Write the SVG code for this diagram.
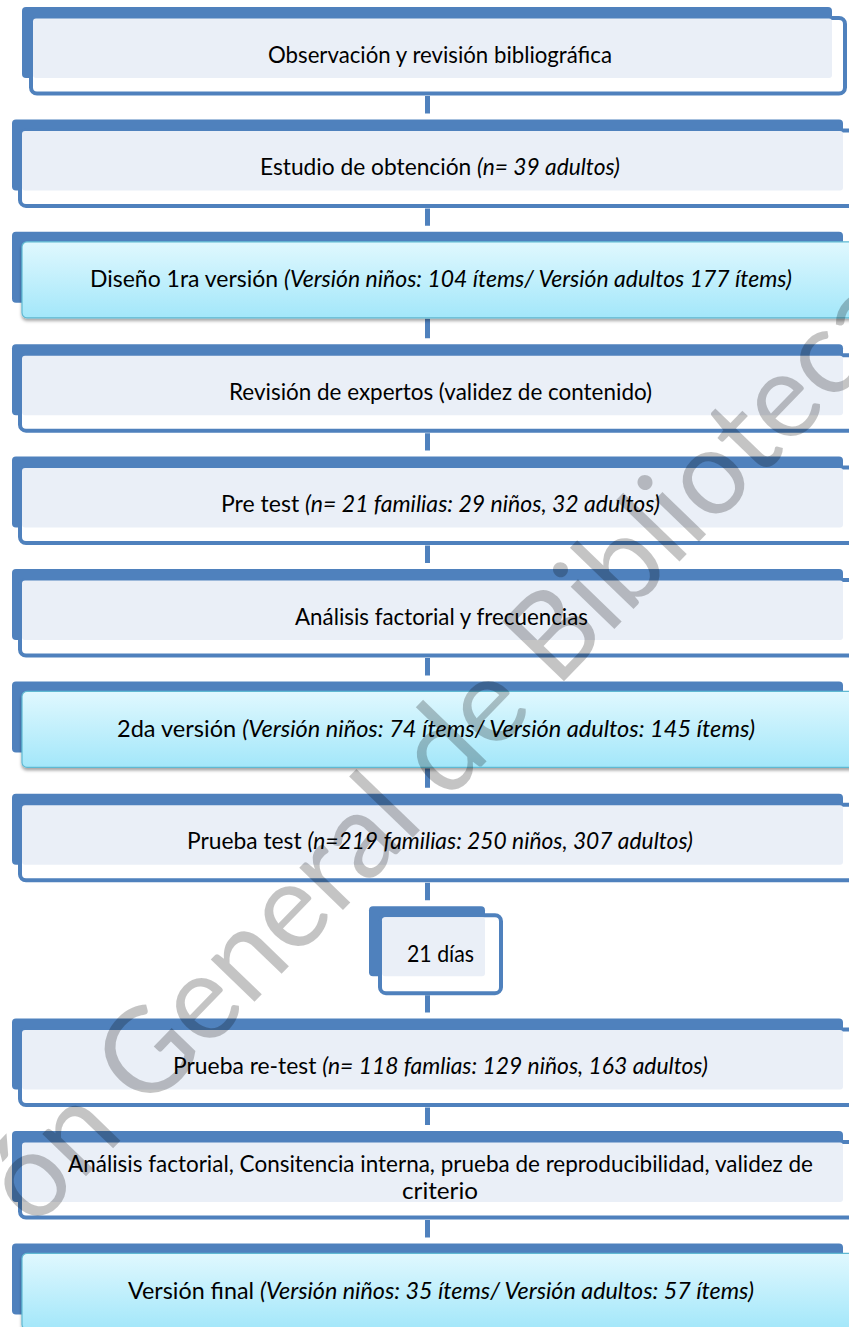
<svg xmlns="http://www.w3.org/2000/svg" width="849" height="1327" viewBox="0 0 849 1327">
<style>
.back{fill:#4F81BD}
.front{fill:#FFFFFF;stroke:#4F81BD;stroke-width:4}
.fill{fill:#EAEFF7}
.cyan{fill:url(#cy);stroke:#5FB9D2;stroke-width:1.2;filter:url(#sh)}
.t{font-family:Lato,"Liberation Sans",sans-serif;font-size:22.5px;fill:#000;text-anchor:middle}
.i{font-style:italic}
.con{stroke:#4F81BD;stroke-width:5;fill:none}
.faint{stroke:#C9D7EA;stroke-width:5;fill:none}
.wm{font-family:Lato,"Liberation Sans",sans-serif;font-size:120px;font-weight:400;fill:#000;fill-opacity:0.23}
</style>
<defs>
<linearGradient id="cy" x1="0" y1="0" x2="0" y2="1">
<stop offset="0" stop-color="#E0F8FE"/>
<stop offset="1" stop-color="#A3E7FA"/>
</linearGradient>
<filter id="sh" x="-5%" y="-10%" width="110%" height="130%">
<feDropShadow dx="0" dy="2.5" stdDeviation="1.5" flood-color="#000" flood-opacity="0.35"/>
</filter>
</defs>

<g id="connectors">
<path class="faint" d="M427.5,82 V93 M427.5,194.4 V205.4 M427.5,419.2 V430.2 M427.5,531.6 V542.6 M427.5,644 V655 M427.5,868.8 V879.8 M427.5,981 V992 M427.5,1093.6 V1104.6 M427.5,1206 V1217"/>
<path class="con" d="M427.5,96 V113.4 M427.5,208.4 V225.8 M427.5,318.8 V338.2 M427.5,433.2 V450.6 M427.5,545.6 V563 M427.5,658 V675.4 M427.5,768.4 V787.8 M427.5,882.8 V900.2 M427.5,995.2 V1012.6 M427.5,1107.6 V1125 M427.5,1220 V1237.4"/>
</g>

<g id="n1" transform="translate(0,7)">
<rect class="back" x="22" y="0" width="810" height="71" rx="4"/>
<rect class="front" x="31" y="11" width="814" height="75.5" rx="6"/>
<rect class="fill" x="33" y="11.5" width="799" height="59.5" rx="3"/>
<text class="t" x="440" y="55.5" textLength="344" lengthAdjust="spacingAndGlyphs">Observación y revisión bibliográfica</text>
</g>

<g id="n2" transform="translate(0,119.4)">
<rect class="back" x="12" y="0" width="831" height="71" rx="4"/>
<rect class="front" x="20" y="11" width="870" height="75.5" rx="6"/>
<rect class="fill" x="22" y="11.5" width="821" height="59.5" rx="3"/>
<text class="t" x="440" y="55.5" textLength="360" lengthAdjust="spacingAndGlyphs">Estudio de obtención <tspan class="i">(n= 39 adultos)</tspan></text>
</g>

<g id="n3" transform="translate(0,231.8)">
<rect class="back" x="12" y="0" width="831" height="71" rx="4"/>
<rect class="cyan" x="22" y="10" width="870" height="76" rx="5"/>
<text class="t" x="441" y="55.5" textLength="702" lengthAdjust="spacingAndGlyphs">Diseño 1ra versión <tspan class="i">(Versión niños: 104 ítems/ Versión adultos 177 ítems)</tspan></text>
</g>

<g id="n4" transform="translate(0,344.2)">
<rect class="back" x="12" y="0" width="831" height="71" rx="4"/>
<rect class="front" x="20" y="11" width="870" height="75.5" rx="6"/>
<rect class="fill" x="22" y="11.5" width="821" height="59.5" rx="3"/>
<text class="t" x="440.5" y="55.5" textLength="423" lengthAdjust="spacingAndGlyphs">Revisión de expertos (validez de contenido)</text>
</g>

<g id="n5" transform="translate(0,456.6)">
<rect class="back" x="12" y="0" width="831" height="71" rx="4"/>
<rect class="front" x="20" y="11" width="870" height="75.5" rx="6"/>
<rect class="fill" x="22" y="11.5" width="821" height="59.5" rx="3"/>
<text class="t" x="440.5" y="55.5" textLength="439" lengthAdjust="spacingAndGlyphs">Pre test <tspan class="i">(n= 21 familias: 29 niños, 32 adultos)</tspan></text>
</g>

<g id="n6" transform="translate(0,569)">
<rect class="back" x="12" y="0" width="831" height="71" rx="4"/>
<rect class="front" x="20" y="11" width="870" height="75.5" rx="6"/>
<rect class="fill" x="22" y="11.5" width="821" height="59.5" rx="3"/>
<text class="t" x="441.5" y="55.5" textLength="293" lengthAdjust="spacingAndGlyphs">Análisis factorial y frecuencias</text>
</g>

<g id="n7" transform="translate(0,681.4)">
<rect class="back" x="12" y="0" width="831" height="71" rx="4"/>
<rect class="cyan" x="22" y="10" width="870" height="76" rx="5"/>
<text class="t" x="436" y="55.5" textLength="638" lengthAdjust="spacingAndGlyphs">2da versión <tspan class="i">(Versión niños: 74 ítems/ Versión adultos: 145 ítems)</tspan></text>
</g>

<g id="n8" transform="translate(0,793.8)">
<rect class="back" x="12" y="0" width="831" height="71" rx="4"/>
<rect class="front" x="20" y="11" width="870" height="75.5" rx="6"/>
<rect class="fill" x="22" y="11.5" width="821" height="59.5" rx="3"/>
<text class="t" x="440" y="55.5" textLength="506" lengthAdjust="spacingAndGlyphs">Prueba test <tspan class="i">(n=219 familias: 250 niños, 307 adultos)</tspan></text>
</g>

<g id="n9" transform="translate(0,906.2)">
<rect class="back" x="369" y="0" width="116" height="70" rx="4"/>
<rect class="front" x="380" y="9" width="121" height="78" rx="6"/>
<rect class="fill" x="382" y="11" width="103" height="59" rx="3"/>
<text class="t" x="440.5" y="55.5" textLength="67" lengthAdjust="spacingAndGlyphs">21 días</text>
</g>

<g id="n10" transform="translate(0,1018.6)">
<rect class="back" x="12" y="0" width="831" height="71" rx="4"/>
<rect class="front" x="20" y="11" width="870" height="75.5" rx="6"/>
<rect class="fill" x="22" y="11.5" width="821" height="59.5" rx="3"/>
<text class="t" x="440.5" y="55.5" textLength="535" lengthAdjust="spacingAndGlyphs">Prueba re-test <tspan class="i">(n= 118 famlias: 129 niños, 163 adultos)</tspan></text>
</g>

<g id="n11" transform="translate(0,1131)">
<rect class="back" x="12" y="0" width="831" height="71" rx="4"/>
<rect class="front" x="20" y="11" width="870" height="75.5" rx="6"/>
<rect class="fill" x="22" y="11.5" width="821" height="59.5" rx="3"/>
<text class="t" x="440.5" y="41" textLength="745" lengthAdjust="spacingAndGlyphs">Análisis factorial, Consitencia interna, prueba de reproducibilidad, validez de</text>
<text class="t" x="440" y="68" textLength="76" lengthAdjust="spacingAndGlyphs">criterio</text>
</g>

<g id="n12" transform="translate(0,1243.4)">
<rect class="back" x="12" y="0" width="831" height="71" rx="4"/>
<rect class="cyan" x="22" y="10" width="870" height="76" rx="5"/>
<text class="t" x="441" y="55.5" textLength="626" lengthAdjust="spacingAndGlyphs">Versión final <tspan class="i">(Versión niños: 35 ítems/ Versión adultos: 57 ítems)</tspan></text>
</g>

<g id="watermark">
<text class="wm" transform="translate(34,1230) rotate(-46)" x="0" y="0" textLength="1260" lengthAdjust="spacingAndGlyphs">ón General de Biblioteca</text>
</g>
</svg>
